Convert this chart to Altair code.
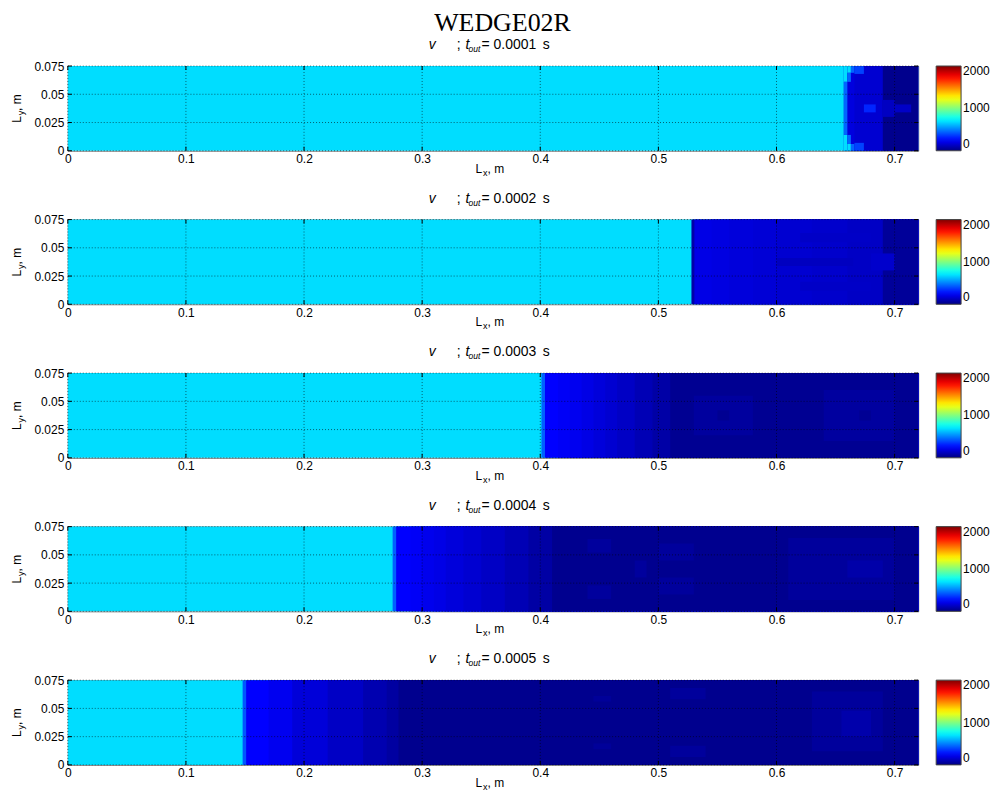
import altair as alt
import pandas as pd

# ---------------- data ----------------
times = ["0.0001", "0.0002", "0.0003", "0.0004", "0.0005"]
x_ticks = [0, 0.1, 0.2, 0.3, 0.4, 0.5, 0.6, 0.7]
y_ticks = [0, 0.025, 0.05, 0.075]
cbar_vals = [0, 1000, 2000]

# vertical strips: left edges along L_x (last entry = domain end) and velocity value (m/s)
p1_edges = [0, 0.657, 0.666, 0.69, 0.72]
p1_v = [683, 185, 160, 25]
p2_edges = [0, 0.528, 0.5305, 0.545, 0.56, 0.58, 0.60, 0.63, 0.66, 0.69, 0.72]
p2_v = [683, 80, 200, 190, 180, 170, 160, 150, 135, 50]
p3_edges = [0, 0.401, 0.404, 0.415, 0.425, 0.435, 0.445, 0.455, 0.465, 0.48, 0.495, 0.51, 0.72]
p3_v = [683, 440, 250, 235, 220, 200, 180, 160, 135, 105, 75, 35]
p4_edges = [0, 0.275, 0.278, 0.29, 0.30, 0.31, 0.32, 0.335, 0.35, 0.37, 0.39, 0.41, 0.72]
p4_v = [683, 440, 250, 235, 215, 200, 180, 160, 135, 105, 70, 30]
p5_edges = [0, 0.148, 0.151, 0.17, 0.19, 0.22, 0.25, 0.27, 0.28, 0.72]
p5_v = [683, 420, 250, 220, 175, 135, 95, 65, 28]

# local features: x0, x1, y0, y1, value
p1_bx0 = [0.657, 0.657, 0.660, 0.660, 0.657, 0.660, 0.660, 0.663, 0.663,
          0.666, 0.666, 0.674, 0.690, 0.700]
p1_bx1 = [0.660, 0.660, 0.663, 0.663, 0.660, 0.663, 0.663, 0.666, 0.666,
          0.674, 0.674, 0.684, 0.700, 0.714]
p1_by0 = [0.000, 0.061, 0.000, 0.069, 0.014, 0.006, 0.061, 0.000, 0.069,
          0.068, 0.000, 0.034, 0.030, 0.034]
p1_by1 = [0.014, 0.075, 0.006, 0.075, 0.061, 0.014, 0.069, 0.006, 0.075,
          0.075, 0.007, 0.041, 0.045, 0.041]
p1_bv = [683, 683, 683, 683, 450, 450, 450, 450, 450,
         380, 380, 320, 130, 140]

p2_bx0 = [0.60, 0.62, 0.62, 0.68]
p2_bx1 = [0.665, 0.68, 0.68, 0.70]
p2_by0 = [0.034, 0.012, 0.055, 0.030]
p2_by1 = [0.041, 0.020, 0.063, 0.045]
p2_bv = [125, 140, 140, 150]

p3_bx0 = [0.53, 0.55, 0.64, 0.67]
p3_bx1 = [0.58, 0.56, 0.70, 0.68]
p3_by0 = [0.020, 0.033, 0.015, 0.033]
p3_by1 = [0.055, 0.042, 0.060, 0.042]
p3_bv = [60, 35, 62, 40]

p4_bx0 = [0.44, 0.44, 0.48, 0.50, 0.50, 0.61, 0.66]
p4_bx1 = [0.46, 0.46, 0.49, 0.53, 0.53, 0.70, 0.69]
p4_by0 = [0.052, 0.011, 0.030, 0.045, 0.015, 0.010, 0.030]
p4_by1 = [0.064, 0.023, 0.045, 0.060, 0.030, 0.065, 0.045]
p4_bv = [58, 58, 58, 55, 55, 55, 80]

p5_bx0 = [0.51, 0.51, 0.445, 0.445, 0.63, 0.655]
p5_bx1 = [0.54, 0.54, 0.46, 0.46, 0.69, 0.68]
p5_by0 = [0.058, 0.007, 0.056, 0.014, 0.012, 0.025]
p5_by1 = [0.068, 0.017, 0.061, 0.019, 0.065, 0.048]
p5_bv = [55, 55, 50, 50, 55, 85]

panels = [
    (p1_edges, p1_v, p1_bx0, p1_bx1, p1_by0, p1_by1, p1_bv),
    (p2_edges, p2_v, p2_bx0, p2_bx1, p2_by0, p2_by1, p2_bv),
    (p3_edges, p3_v, p3_bx0, p3_bx1, p3_by0, p3_by1, p3_bv),
    (p4_edges, p4_v, p4_bx0, p4_bx1, p4_by0, p4_by1, p4_bv),
    (p5_edges, p5_v, p5_bx0, p5_bx1, p5_by0, p5_by1, p5_bv),
]

# ---------------- styling ----------------
W, H = 853, 85
FONT = "Liberation Sans"
jet_domain = [0, 250, 750, 1250, 1750, 2000]
jet_range = ["#000080", "#0000ff", "#00ffff", "#ffff00", "#ff0000", "#800000"]

xscale = alt.Scale(domain=[0, 0.72], nice=False, zero=False)
yscale = alt.Scale(domain=[0, 0.075], nice=False, zero=False)
AX = alt.Axis(values=x_ticks, format=".1~f", labelPadding=3, title=None,
              labelFlush=False)
AY = alt.Axis(values=y_ticks, format=".3~f", labelPadding=4, title=None,
              labelFlush=False)
one = pd.DataFrame({"a": [0]})


def txt(text, x, y, size=14, style="normal", angle=0, align="left",
        font=FONT, baseline="middle"):
    return alt.Chart(one).mark_text(
        text=text, x=x, y=y, fontSize=size, fontStyle=style, angle=angle,
        align=align, baseline=baseline, font=font, color="black")


def panel(i):
    edges, vals, bx0, bx1, by0, by1, bv = panels[i]
    rows = []
    # each strip runs from its left edge to the domain end; later strips cover
    # earlier ones, so there are no anti-aliasing seams between strips
    for k, v in enumerate(vals):
        rows.append({"x0": edges[k], "x1": edges[-1], "y0": 0.0, "y1": 0.075, "v": v})
    for k in range(len(bv)):
        rows.append({"x0": bx0[k], "x1": bx1[k], "y0": by0[k], "y1": by1[k], "v": bv[k]})
    df = pd.DataFrame(rows)

    jet = alt.Scale(domain=jet_domain, range=jet_range, interpolate="rgb")
    heat = alt.Chart(df).mark_rect(strokeWidth=0).encode(
        x=alt.X("x0:Q", scale=xscale, axis=AX),
        x2="x1",
        y=alt.Y("y0:Q", scale=yscale, axis=AY),
        y2="y1",
        color=alt.Color("v:Q", scale=jet,
                        legend=alt.Legend(values=cbar_vals, title=None, orient="right",
                                          format="d",
                                          offset=18, padding=0, gradientLength=H,
                                          gradientThickness=25, labelFontSize=12,
                                          labelFont=FONT, labelBaseline="middle",
                                          labelOffset=2, labelColor="black",
                                          gradientStrokeColor="#444",
                                          gradientStrokeWidth=1)),
    )

    xt = pd.DataFrame({"t": x_ticks})
    yt = pd.DataFrame({"t": y_ticks})
    gx = alt.Chart(xt).mark_rule(color="black", strokeDash=[1, 2], opacity=0.7,
                                 strokeWidth=0.8).encode(
        x=alt.X("t:Q", scale=xscale, axis=AX))
    gy = alt.Chart(yt).mark_rule(color="black", strokeDash=[1, 2], opacity=0.7,
                                 strokeWidth=0.8).encode(
        y=alt.Y("t:Q", scale=yscale, axis=AY))
    tb = alt.Chart(xt).mark_rule(color="black", strokeWidth=1).encode(
        x=alt.X("t:Q", scale=xscale, axis=AX), y=alt.value(H), y2=alt.value(H - 4))
    tt = alt.Chart(xt).mark_rule(color="black", strokeWidth=1).encode(
        x=alt.X("t:Q", scale=xscale, axis=AX), y=alt.value(0), y2=alt.value(4))
    tl = alt.Chart(yt).mark_rule(color="black", strokeWidth=1).encode(
        y=alt.Y("t:Q", scale=yscale, axis=AY), x=alt.value(0), x2=alt.value(4))
    tr = alt.Chart(yt).mark_rule(color="black", strokeWidth=1).encode(
        y=alt.Y("t:Q", scale=yscale, axis=AY), x=alt.value(W), x2=alt.value(W - 4))

    texts = [
        # subtitle
        txt("v", 362, -21, style="italic"),
        txt(";", 390, -21),
        txt("t", 399, -21, style="italic"),
        txt("out", 402, -17, size=8.5, style="italic"),
        txt("= " + times[i] + "\u2009 s", 415, -21),
        # x axis title
        txt("L", 409, 103, size=12),
        txt("x", 416.5, 107, size=9),
        txt(", m", 421, 103, size=12),
        # y axis title
        txt("L", -51, 57, size=12, angle=270),
        txt("y", -47, 49.5, size=9, angle=270),
        txt(", m", -51, 45, size=12, angle=270),
    ]
    if i == 0:
        texts.append(txt("WEDGE02R", 436, -35, size=26, font="Liberation Serif",
                         align="center", baseline="alphabetic"))

    return alt.layer(heat, gx, gy, tb, tt, tl, tr, *texts).properties(width=W, height=H)


chart = alt.vconcat(*[panel(i) for i in range(5)], spacing=12).resolve_scale(
    color="independent"
).properties(padding={"left": 2, "top": 0, "right": 0, "bottom": 0}).configure_view(
    stroke="#808080", strokeWidth=1
).configure_axis(
    ticks=False, domain=False, grid=False, labelFont=FONT, labelFontSize=12,
    labelColor="black"
)

chart.save("out.html", embed_options={"renderer": "svg", "actions": False})
